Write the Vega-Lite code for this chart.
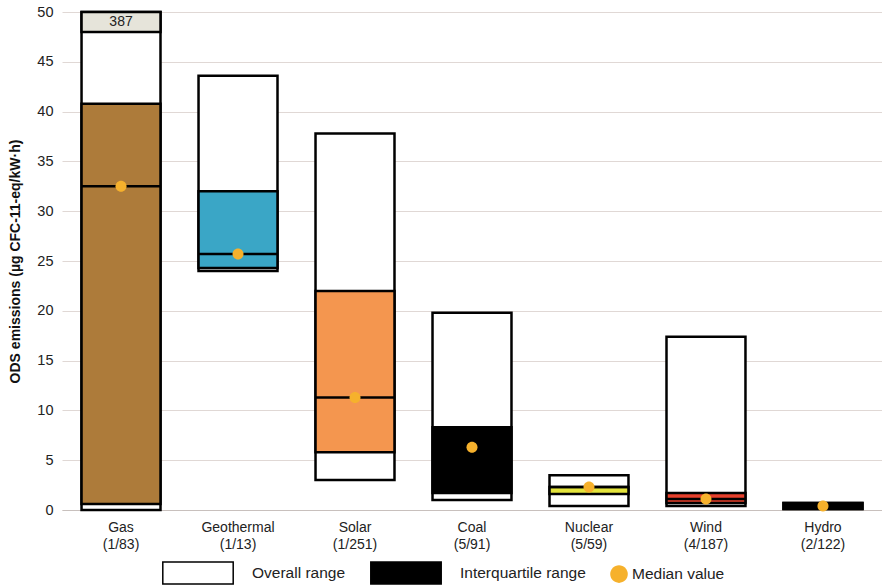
{
  "$schema": "https://vega.github.io/schema/vega-lite/v6.json",
  "width": 820,
  "height": 498,
  "autosize": "none",
  "padding": {"left": 62, "top": 12, "right": 0, "bottom": 77},
  "background": "white",
  "config": {
    "font": "Liberation Sans",
    "view": {"stroke": null}
  },
  "data": {
    "values": [
      {"source": "Gas|(1/83)", "min": 0, "max": 387, "q1": 0.6, "q3": 40.8, "median": 32.5, "brk_lo": 48, "brk_hi": 50, "brk_label": "387"},
      {"source": "Geothermal|(1/13)", "min": 24.0, "max": 43.6, "q1": 24.3, "q3": 32.0, "median": 25.7},
      {"source": "Solar|(1/251)", "min": 3.0, "max": 37.8, "q1": 5.8, "q3": 22.0, "median": 11.3},
      {"source": "Coal|(5/91)", "min": 1.0, "max": 19.8, "q1": 1.7, "q3": 8.3, "median": 6.3},
      {"source": "Nuclear|(5/59)", "min": 0.4, "max": 3.5, "q1": 1.6, "q3": 2.3, "median": 2.3},
      {"source": "Wind|(4/187)", "min": 0.4, "max": 17.4, "q1": 0.7, "q3": 1.7, "median": 1.1},
      {"source": "Hydro|(2/122)", "min": 0.1, "max": 0.7, "q1": 0.1, "q3": 0.7, "median": 0.4}
    ]
  },
  "encoding": {
    "x": {
      "field": "source",
      "type": "nominal",
      "sort": null,
      "scale": {"paddingInner": 0.325, "paddingOuter": 0.167},
      "axis": {
        "title": null,
        "labelExpr": "split(datum.label, '|')",
        "labelAngle": 0,
        "labelFontSize": 14,
        "labelLineHeight": 17,
        "labelColor": "#222",
        "labelPadding": 10,
        "ticks": false,
        "domain": true,
        "domainColor": "#c8c0bd",
        "domainWidth": 1
      }
    }
  },
  "layer": [
    {
      "mark": {"type": "bar", "fill": "white", "stroke": "black", "strokeWidth": 2.5},
      "encoding": {
        "y": {
          "field": "min",
          "type": "quantitative",
          "scale": {"domain": [0, 50], "nice": false, "clamp": true},
          "axis": {
            "title": "ODS emissions (µg CFC-11-eq/kW·h)",
            "titleFontSize": 14,
            "titleFontWeight": "bold",
            "titleColor": "#111",
            "titlePadding": 14,
            "values": [0, 5, 10, 15, 20, 25, 30, 35, 40, 45, 50],
            "labelFontSize": 14.5,
            "labelColor": "#222",
            "labelPadding": 9,
            "ticks": false,
            "domain": false,
            "grid": true,
            "gridColor": "#e0d8d5",
            "gridWidth": 1
          }
        },
        "y2": {"field": "max"}
      }
    },
    {
      "mark": {"type": "bar", "fill": "#e6e4da", "stroke": "black", "strokeWidth": 2.5},
      "encoding": {
        "y": {"field": "brk_lo", "type": "quantitative"},
        "y2": {"field": "brk_hi"}
      }
    },
    {
      "mark": {"type": "text", "baseline": "top", "dy": 3, "fontSize": 14, "color": "#222"},
      "encoding": {
        "y": {"field": "brk_hi", "type": "quantitative"},
        "text": {"field": "brk_label"}
      }
    },
    {
      "mark": {"type": "bar", "stroke": "black", "strokeWidth": 2.5},
      "encoding": {
        "y": {"field": "q1", "type": "quantitative"},
        "y2": {"field": "q3"},
        "fill": {
          "field": "source",
          "type": "nominal",
          "scale": {
            "domain": ["Gas|(1/83)", "Geothermal|(1/13)", "Solar|(1/251)", "Coal|(5/91)", "Nuclear|(5/59)", "Wind|(4/187)", "Hydro|(2/122)"],
            "range": ["#ad7b3a", "#3aa6c6", "#f4964f", "#000000", "#e4e43c", "#e6402c", "#000000"]
          },
          "legend": null
        }
      }
    },
    {
      "mark": {"type": "tick", "color": "black", "opacity": 1, "size": 79, "thickness": 2.5, "orient": "horizontal"},
      "encoding": {
        "y": {"field": "median", "type": "quantitative"}
      }
    },
    {
      "transform": [{"calculate": "'Median value'", "as": "kind"}],
      "mark": {"type": "point", "filled": true, "size": 190, "opacity": 1, "strokeWidth": 0},
      "encoding": {
        "y": {"field": "median", "type": "quantitative"},
        "color": {
          "field": "kind",
          "type": "nominal",
          "scale": {
            "domain": ["Overall range", "Interquartile range", "Median value"],
            "range": ["#ffffff", "#000000", "#f6b12c"]
          },
          "legend": {
            "title": null,
            "orient": "none",
            "direction": "horizontal",
            "legendX": 124,
            "legendY": 549,
            "padding": 0,
            "symbolSize": 484,
            "labelOffset": 42,
            "columnPadding": 21,
            "labelFontSize": 15.5,
            "labelColor": "#222",
            "symbolOpacity": 1,
            "encode": {
              "labels": {
                "update": {
                  "dx": {"signal": "datum.value === 'Median value' ? -41 : 0"}
                }
              },
              "symbols": {
                "update": {
                  "stroke": {"signal": "datum.value === 'Median value' ? 'transparent' : 'black'"},
                  "strokeWidth": {"value": 1.5},
                  "fill": {"signal": "datum.value === 'Median value' ? '#f0924a' : (datum.value === 'Overall range' ? 'white' : 'black')"},
                  "opacity": {"value": 1}
                }
              }
            }
          }
        },
        "shape": {
          "field": "kind",
          "type": "nominal",
          "scale": {
            "domain": ["Overall range", "Interquartile range", "Median value"],
            "range": ["M-3.2,-1H3.2V1H-3.2Z", "M-3.2,-1H3.2V1H-3.2Z", "M0,-0.8A0.8,0.8,0,1,1,0,0.8A0.8,0.8,0,1,1,0,-0.8Z"]
          }
        }
      }
    }
  ]
}
